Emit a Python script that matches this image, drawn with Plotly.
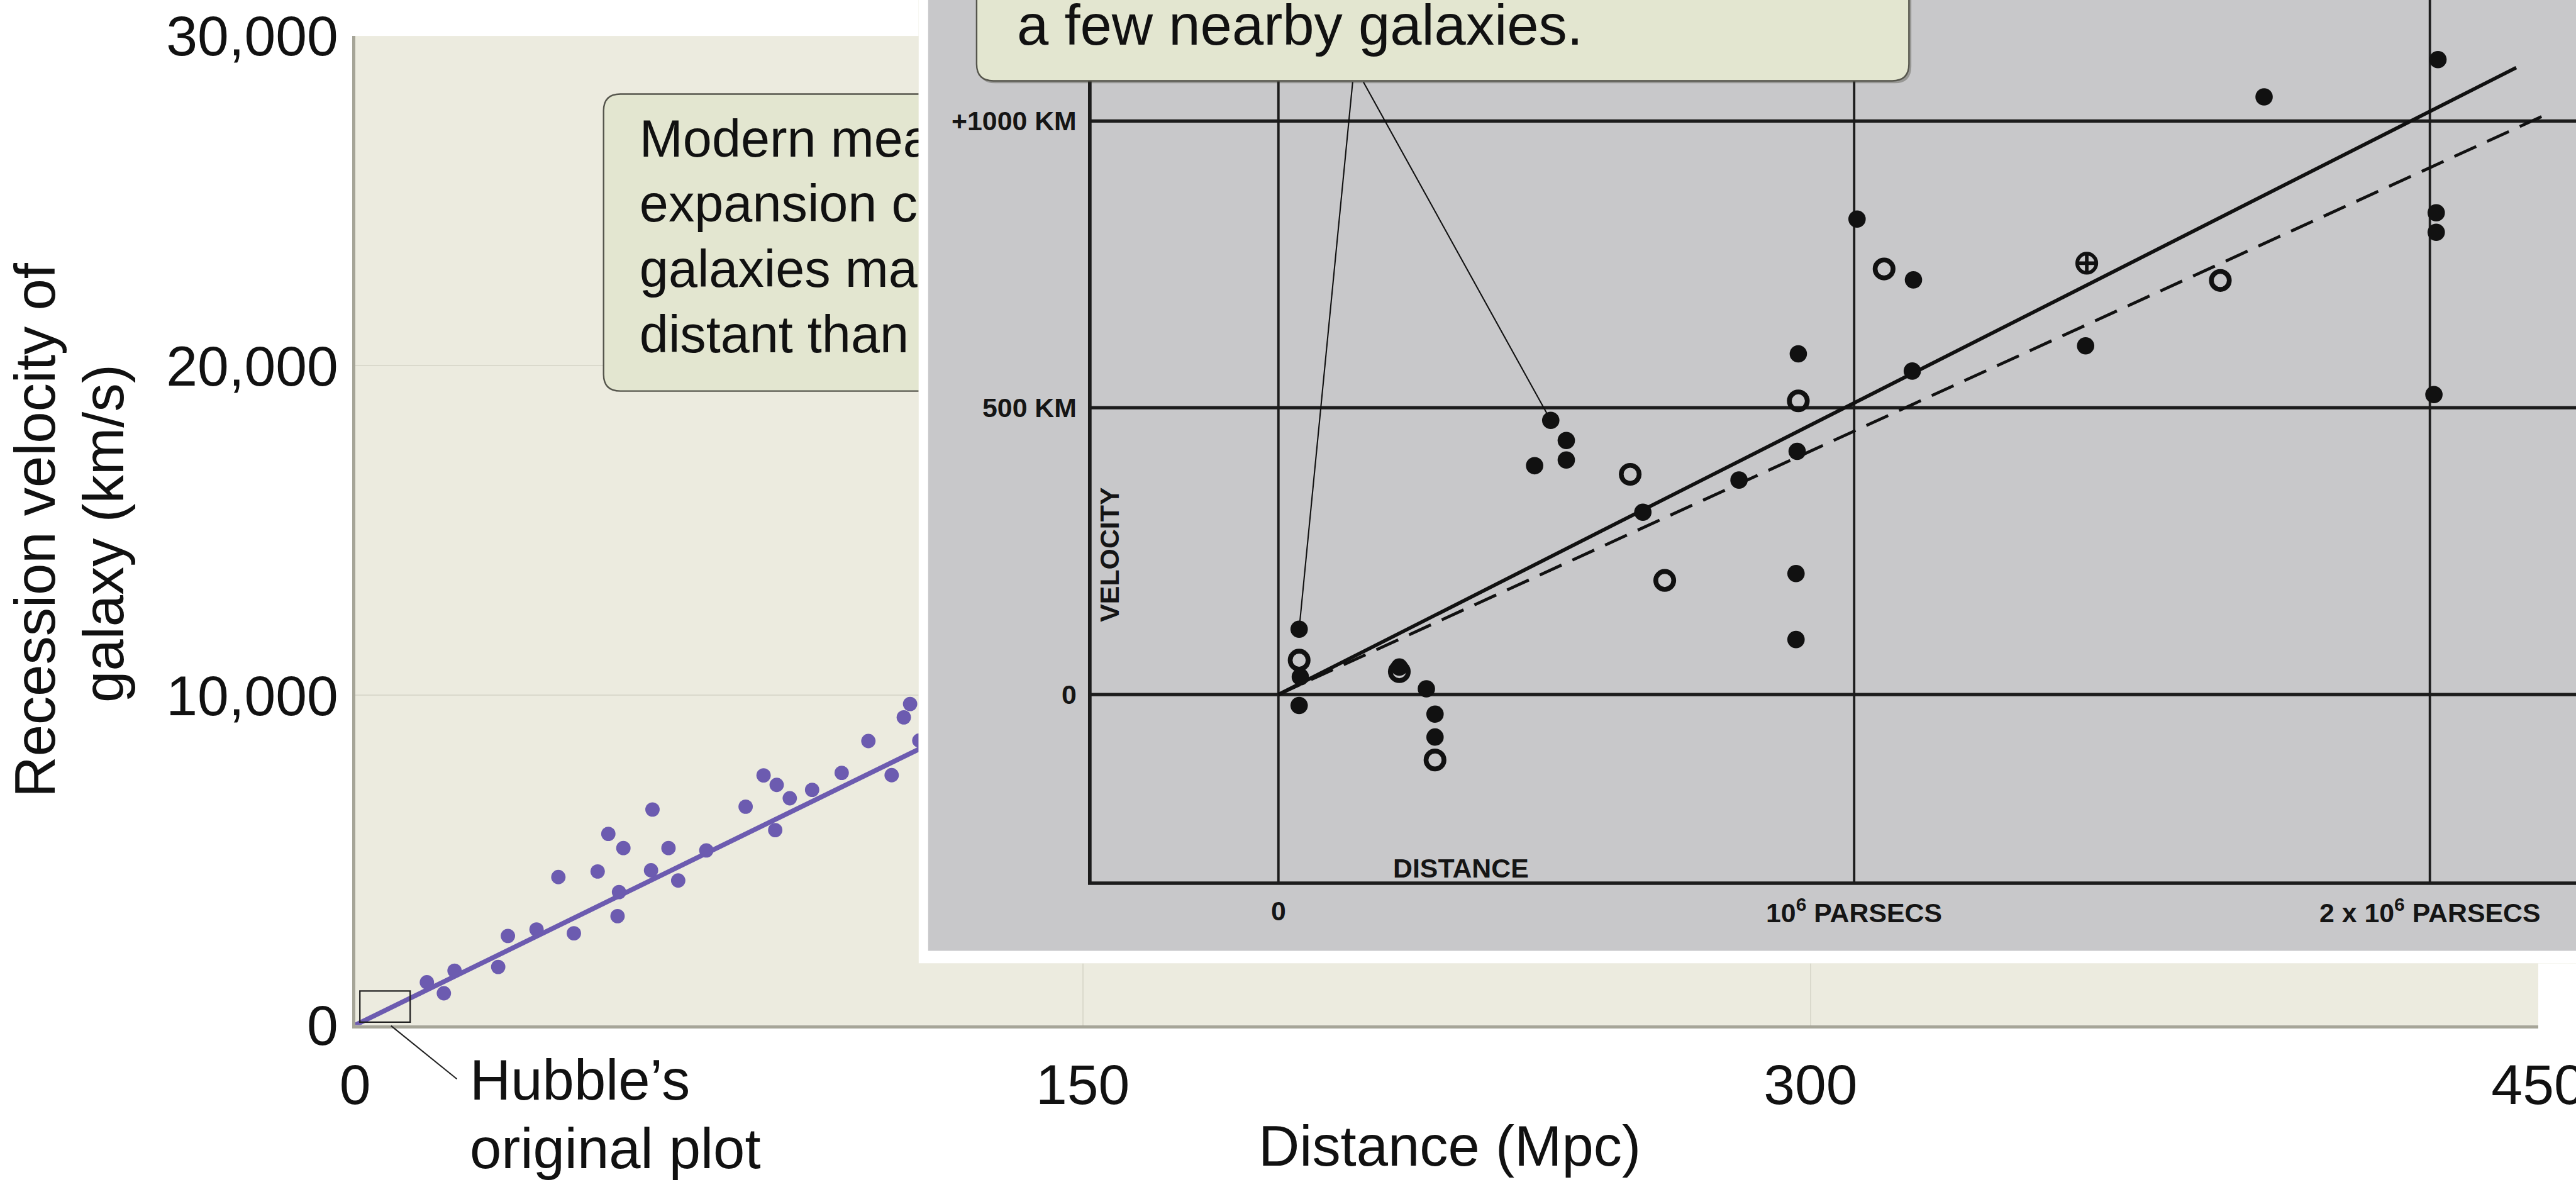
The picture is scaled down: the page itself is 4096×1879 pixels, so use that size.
import plotly.graph_objects as go

# ---------------- data ----------------
# Modern sample of galaxies: distance (Mpc) and recession velocity (km/s)
modern_distance_mpc = [14.8, 18.3, 20.5, 29.5, 31.5, 37.4, 45.1, 41.9, 50.0, 52.2,
                       55.3, 54.4, 54.1, 61.3, 61.0, 64.6, 66.6, 72.4, 80.5, 84.2,
                       86.9, 89.6, 86.6, 94.2, 100.3, 105.8, 110.6, 113.1, 114.4, 116.3]
modern_velocity_kms = [1300, 965, 1650, 1765, 2705, 2900, 2785, 4490, 4660, 5800,
                       5370, 4035, 3305, 6540, 4695, 5370, 4385, 5300, 6625, 7575,
                       7285, 6880, 5915, 7135, 7650, 8615, 7580, 9335, 9740, 8630]
modern_h0 = 72  # km/s per Mpc, slope of the modern fit line

x_tick_values = [0, 150, 300, 450]
y_tick_values = [0, 10000, 20000, 30000]

# Hubble (1929): distance in 10^6 parsecs, velocity in km/s
hubble_filled_distance = [0.036, 0.038, 0.036, 0.210, 0.257, 0.272, 0.272, 0.473, 0.500, 0.500,
                          0.445, 0.633, 0.800, 0.901, 0.903, 0.899, 0.899, 1.005, 1.103, 1.101,
                          1.402, 1.712, 2.014, 2.011, 2.011, 2.007]
hubble_filled_velocity = [114, 31, -19, 48, 10, -34, -74, 478, 443, 409,
                          399, 318, 374, 424, 594, 211, 96, 829, 723, 564,
                          608, 1042, 1107, 840, 806, 523]
hubble_open_distance = [0.036, 0.210, 0.272, 0.611, 0.671, 0.903, 1.052, 1.636]
hubble_open_velocity = [60, 40, -114, 384, 199, 512, 742, 722]
hubble_cross_distance = [1.404]
hubble_cross_velocity = [752]
hubble_fit_distance = [0, 2.15]
hubble_fit_velocity = [0, 1093]
hubble_group_fit_distance = [0, 2.21]
hubble_group_fit_velocity = [0, 1015]
hubble_distance_lines = [0, 1, 2]
hubble_velocity_lines = [0, 500, 1000]
hubble_velocity_labels = ["0", "500 KM", "+1000 KM"]
hubble_distance_labels = ["0", "10<sup>6</sup> PARSECS", "2 x 10<sup>6</sup> PARSECS"]

modern_note_lines = ["Modern measurements show the",
                     "expansion continues out to",
                     "galaxies many times more",
                     "distant than Hubble could see."]
hubble_note_line = "a few nearby galaxies."

# ---------------- geometry (base units, scaled by S) ----------------
S = 0.952
FIG_W, FIG_H = 4096, 1879
BASE_W, BASE_H = 4302, 1974

FONT = "Liberation Sans, Arial, Helvetica, sans-serif"
INK = "#111111"
PURPLE = "#6c5bb0"
BEIGE = "#ecebdf"
NOTE_FILL = "#e3e6d0"
NOTE_LINE = "#55554c"
PHOTO_GREY = "#c8c8ca"


def sz(v):
    return v * S


def paper_x(x):
    return x / BASE_W


def paper_y(y):
    return 1 - y / BASE_H


# main plot frame
PLOT_L, PLOT_R, PLOT_T, PLOT_B = 593, 4239, 60, 1712
X_MAX, Y_MAX = 450, 30000


def main_x(x):
    return (x - PLOT_L) / (PLOT_R - PLOT_L) * X_MAX


def main_y(y):
    return (PLOT_B - y) / (PLOT_B - PLOT_T) * Y_MAX


# inset (reproduction of Hubble's diagram)
SHEET_L, SHEET_B = 1534, 1609
PHOTO_L, PHOTO_B = 1550, 1588
H_X0, H_PX_PER_MPC = 2135, 961.5
H_Y0, H_PX_PER_KMS = 1160, 0.958
H_FRAME_LEFT, H_FRAME_BOTTOM = 1820, 1475


def ins_x(x):
    return (x - H_X0) / H_PX_PER_MPC


def ins_y(y):
    return (H_Y0 - y) / H_PX_PER_KMS


def rounded_path(x0, y0, x1, y1, r, tx, ty):
    return (f"M {tx(x0 + r)},{ty(y0)} L {tx(x1 - r)},{ty(y0)} "
            f"Q {tx(x1)},{ty(y0)} {tx(x1)},{ty(y0 + r)} L {tx(x1)},{ty(y1 - r)} "
            f"Q {tx(x1)},{ty(y1)} {tx(x1 - r)},{ty(y1)} L {tx(x0 + r)},{ty(y1)} "
            f"Q {tx(x0)},{ty(y1)} {tx(x0)},{ty(y1 - r)} L {tx(x0)},{ty(y0 + r)} "
            f"Q {tx(x0)},{ty(y0)} {tx(x0 + r)},{ty(y0)} Z")


fig = go.Figure()

# ---------------- main chart (x / y) ----------------
fig.add_trace(go.Scatter(
    x=[0, X_MAX], y=[0, modern_h0 * X_MAX], mode="lines",
    line=dict(color=PURPLE, width=sz(8)), hoverinfo="skip"))
fig.add_trace(go.Scatter(
    x=modern_distance_mpc, y=modern_velocity_kms, mode="markers",
    marker=dict(color=PURPLE, size=sz(24), line=dict(width=0))))

# text of the modern-measurements note (sits under the inset)
NOTE_FS = 87
modern_baselines = [270, 379, 488, 597]
fig.add_trace(go.Scatter(
    x=[main_x(1068)] * len(modern_note_lines),
    y=[main_y(b - 0.35 * NOTE_FS) for b in modern_baselines],
    mode="text", text=modern_note_lines, textposition="middle right",
    textfont=dict(family=FONT, size=sz(NOTE_FS), color=INK), hoverinfo="skip"))

# ---------------- inset (x2 / y2) ----------------
xr = [ins_x(SHEET_L), ins_x(BASE_W)]
yr = [ins_y(SHEET_B), ins_y(0)]


def box_trace(x0, x1, y0, y1, color):
    return go.Scatter(x=[x0, x1, x1, x0, x0], y=[y0, y0, y1, y1, y0],
                      xaxis="x2", yaxis="y2", mode="lines", fill="toself",
                      fillcolor=color, line=dict(width=0), hoverinfo="skip")


fig.add_trace(box_trace(xr[0], xr[1], yr[0], yr[1], "#ffffff"))
fig.add_trace(box_trace(ins_x(PHOTO_L), xr[1], ins_y(PHOTO_B), yr[1], PHOTO_GREY))

frame_left = ins_x(H_FRAME_LEFT)
frame_bottom = ins_y(H_FRAME_BOTTOM)
frame_top = yr[1]
frame_right = xr[1]

# horizontal rules
hx, hy = [], []
for v in hubble_velocity_lines:
    hx += [frame_left, frame_right, None]
    hy += [v, v, None]
fig.add_trace(go.Scatter(x=hx, y=hy, xaxis="x2", yaxis="y2", mode="lines",
                         line=dict(color="#1c1c1c", width=sz(5.5)), hoverinfo="skip"))
# vertical rules
vx, vy = [], []
for d in hubble_distance_lines:
    vx += [d, d, None]
    vy += [frame_bottom, frame_top, None]
fig.add_trace(go.Scatter(x=vx, y=vy, xaxis="x2", yaxis="y2", mode="lines",
                         line=dict(color="#1c1c1c", width=sz(4)), hoverinfo="skip"))
# frame (left and bottom)
fig.add_trace(go.Scatter(
    x=[frame_left, frame_left, frame_right], y=[frame_top, frame_bottom, frame_bottom],
    xaxis="x2", yaxis="y2", mode="lines",
    line=dict(color="#1c1c1c", width=sz(6)), hoverinfo="skip"))

# fitted lines
fig.add_trace(go.Scatter(
    x=hubble_fit_distance, y=hubble_fit_velocity, xaxis="x2", yaxis="y2", mode="lines",
    line=dict(color="#111111", width=sz(6)), hoverinfo="skip"))
fig.add_trace(go.Scatter(
    x=hubble_group_fit_distance, y=hubble_group_fit_velocity, xaxis="x2", yaxis="y2",
    mode="lines", line=dict(color="#111111", width=sz(5), dash=f"{sz(40)}px,{sz(20)}px"),
    hoverinfo="skip"))

# points
fig.add_trace(go.Scatter(
    x=hubble_open_distance, y=hubble_open_velocity, xaxis="x2", yaxis="y2", mode="markers",
    marker=dict(symbol="circle-open", size=sz(30), color="#111111", line=dict(width=sz(8)))))
fig.add_trace(go.Scatter(
    x=hubble_cross_distance, y=hubble_cross_velocity, xaxis="x2", yaxis="y2", mode="markers",
    marker=dict(symbol="circle-cross-open", size=sz(32), color="#111111",
                line=dict(width=sz(6)))))
fig.add_trace(go.Scatter(
    x=hubble_filled_distance, y=hubble_filled_velocity, xaxis="x2", yaxis="y2",
    mode="markers", marker=dict(color="#111111", size=sz(29), line=dict(width=0))))

# ---------------- shapes ----------------
shapes = []
# modern note box (between grid and traces, so the inset covers it)
shapes.append(dict(
    type="path", xref="x", yref="y", layer="between",
    path=rounded_path(1008, 157, 2300, 653, 28, main_x, main_y),
    fillcolor=NOTE_FILL, line=dict(color=NOTE_LINE, width=sz(2.5))))
# outline of Hubble's original data range
shapes.append(dict(
    type="rect", xref="x", yref="y", layer="above",
    x0=main_x(601), x1=main_x(685), y0=main_y(1707), y1=main_y(1655),
    fillcolor="rgba(0,0,0,0)", line=dict(color="#222222", width=sz(2.4))))
shapes.append(dict(
    type="line", xref="paper", yref="paper", layer="above",
    x0=paper_x(653), y0=paper_y(1713), x1=paper_x(763), y1=paper_y(1802),
    line=dict(color="#222222", width=sz(2.2))))
# note box on top of the inset
shapes.append(dict(
    type="path", xref="paper", yref="paper", layer="above",
    path=rounded_path(1634, -120, 3192, 139, 28, paper_x, paper_y),
    fillcolor="rgba(60,60,50,0.35)", line=dict(width=0)))
shapes.append(dict(
    type="path", xref="paper", yref="paper", layer="above",
    path=rounded_path(1631, -120, 3188, 135, 28, paper_x, paper_y),
    fillcolor=NOTE_FILL, line=dict(color=NOTE_LINE, width=sz(2.5))))
# leaders from the note to two of Hubble's points
for src_px, idx in [(2259, 0), (2277, 7)]:
    shapes.append(dict(
        type="line", xref="x2", yref="y2", layer="above",
        x0=ins_x(src_px), y0=ins_y(137),
        x1=hubble_filled_distance[idx], y1=hubble_filled_velocity[idx],
        line=dict(color="#111111", width=sz(2.2))))

# ---------------- annotations ----------------
ann = []


def text_at(px_x, px_y, text, size, xanchor="center", angle=0, weight="normal"):
    return dict(xref="paper", yref="paper", x=paper_x(px_x), y=paper_y(px_y),
                text=text, showarrow=False, xanchor=xanchor, yanchor="middle",
                textangle=angle,
                font=dict(family=FONT, size=sz(size), color=INK, weight=weight))


TITLE_FS = 95
ann.append(text_at(58, 885, "Recession velocity of", TITLE_FS, angle=-90))
ann.append(text_at(172, 891, "galaxy (km/s)", TITLE_FS, angle=-90))
ann.append(text_at(2421, 1947 - 0.35 * TITLE_FS, "Distance (Mpc)", TITLE_FS))
ann.append(text_at(782, 1837 - 0.35 * TITLE_FS, "Hubble\u2019s", TITLE_FS, xanchor="left"))
ann.append(text_at(782, 1951 - 0.35 * TITLE_FS, "original plot", TITLE_FS, xanchor="left"))
TOP_FS = 95
ann.append(text_at(1696, 75 - 0.35 * TOP_FS, hubble_note_line, TOP_FS, xanchor="left"))

# labels of Hubble's diagram
LAB_FS = 45
LAB_FONT = dict(family="Liberation Sans, Arial, sans-serif", size=sz(LAB_FS),
                color="#151515", weight="bold")
for v, lab in zip(hubble_velocity_lines, hubble_velocity_labels):
    ann.append(dict(xref="x2", yref="y2", x=ins_x(1800), y=v, text=lab,
                    showarrow=False, xanchor="right", yanchor="middle", font=LAB_FONT))
for d, lab in zip(hubble_distance_lines, hubble_distance_labels):
    ann.append(dict(xref="x2", yref="y2", x=d, y=ins_y(1521), text=lab,
                    showarrow=False, xanchor="center", yanchor="middle", font=LAB_FONT))
ann.append(dict(xref="x2", yref="y2", x=ins_x(2440), y=ins_y(1450), text="DISTANCE",
                showarrow=False, xanchor="center", yanchor="middle", font=LAB_FONT))
ann.append(dict(xref="x2", yref="y2", x=ins_x(1853), y=ins_y(926), text="VELOCITY",
                showarrow=False, xanchor="center", yanchor="middle", textangle=-90,
                font=LAB_FONT))

# ---------------- layout ----------------
TICK_FS = 94
axis_common = dict(
    showgrid=True, gridcolor="#dad9cc", gridwidth=sz(2),
    showline=True, linecolor="#a6a598", linewidth=sz(5),
    zeroline=False, ticks="", fixedrange=True, automargin=False,
    ticklabeloverflow="allow",
    tickfont=dict(family=FONT, size=sz(TICK_FS), color=INK))

fig.update_layout(
    width=FIG_W, height=FIG_H,
    margin=dict(l=0, r=0, t=0, b=0, pad=0, autoexpand=False),
    paper_bgcolor="#ffffff", plot_bgcolor=BEIGE,
    showlegend=False,
    xaxis=dict(domain=[paper_x(PLOT_L), paper_x(PLOT_R)], range=[0, X_MAX],
               tickvals=x_tick_values, ticklabelstandoff=13, anchor="y",
               **axis_common),
    yaxis=dict(domain=[paper_y(PLOT_B), paper_y(PLOT_T)], range=[0, Y_MAX],
               tickvals=y_tick_values, tickformat=",", ticklabelstandoff=4,
               anchor="x", **axis_common),
    xaxis2=dict(domain=[paper_x(SHEET_L), 1.0], range=xr, anchor="y2",
                visible=False, fixedrange=True, automargin=False),
    yaxis2=dict(domain=[paper_y(SHEET_B), 1.0], range=yr, anchor="x2",
                visible=False, fixedrange=True, automargin=False),
    shapes=shapes,
    annotations=ann,
)

fig.write_html("out.html")
